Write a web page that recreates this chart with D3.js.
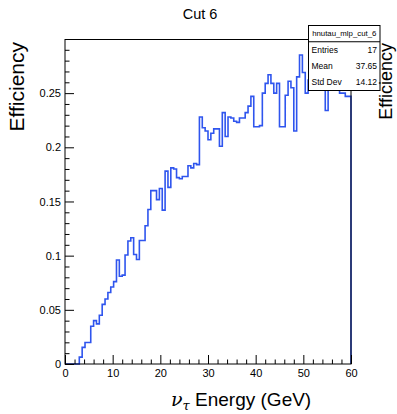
<!DOCTYPE html>
<html>
<head>
<meta charset="utf-8">
<script src="https://cdn.jsdelivr.net/npm/d3@7"></script>
<style>
  body { margin: 0; background: #fff; }
  svg { display: block; font-family: "Liberation Sans", Arial, Helvetica, sans-serif; }
</style>
</head>
<body>
<svg id="chart" width="397" height="414"></svg>
<script>
// Histogram: 100 bins of neutrino energy between 0 and 60 GeV
const energyRange = [0, 60];
const efficiencyRange = [0, 0.2995];
const efficiency = [
  0, 0, 0, 0, 0, 0.0063, 0.0153, 0.0198, 0.0198, 0.0348,
  0.040, 0.037, 0.045, 0.055, 0.060, 0.066, 0.071, 0.076, 0.096, 0.081,
  0.082, 0.1006, 0.1135, 0.1165, 0.101, 0.0964, 0.114, 0.114, 0.1276, 0.1426,
  0.160, 0.160, 0.1517, 0.162, 0.142, 0.178, 0.163, 0.181, 0.180, 0.172,
  0.171, 0.173, 0.173, 0.183, 0.181, 0.185, 0.184, 0.228, 0.218, 0.215,
  0.207, 0.213, 0.217, 0.217, 0.201, 0.232, 0.210, 0.228, 0.227, 0.224,
  0.223, 0.227, 0.227, 0.232, 0.238, 0.247, 0.219, 0.219, 0.220, 0.250,
  0.259, 0.267, 0.259, 0.250, 0.259, 0.219, 0.219, 0.248, 0.261, 0.255,
  0.215, 0.265, 0.2852, 0.269, 0.250, 0.262, 0.270, 0.258, 0.266, 0.256,
  0.262, 0.234, 0.260, 0.266, 0.257, 0.255, 0.250, 0.250, 0.247, 0.247
];
const xMajorTicks = [0, 10, 20, 30, 40, 50, 60];
const yMajorTicks = [0, 0.05, 0.1, 0.15, 0.2, 0.25];
const yTickLabels = ["0", "0.05", "0.1", "0.15", "0.2", "0.25"];
const chartTitle = "Cut 6";
const yTitle = "Efficiency";
const histName = "hnutau_mlp_cut_6";
const statLabels = ["Entries", "Mean", "Std Dev"];
const statValues = ["17", "37.65", "14.12"];

const svg = d3.select("#chart");
const frame = { left: 65, right: 351, top: 39.5, bottom: 364 };

const x = d3.scaleLinear().domain(energyRange).range([frame.left, frame.right]);
const y = d3.scaleLinear().domain(efficiencyRange).range([frame.bottom, frame.top]);

// frame background
svg.append("rect")
  .attr("x", frame.left).attr("y", frame.top)
  .attr("width", frame.right - frame.left).attr("height", frame.bottom - frame.top)
  .attr("fill", "#fff");

// histogram outline (step line)
const nBins = efficiency.length;
const binWidth = (energyRange[1] - energyRange[0]) / nBins;
const pts = [[energyRange[0], 0]];
efficiency.forEach((v, i) => pts.push([energyRange[0] + i * binWidth, v]));
pts.push([energyRange[1], efficiency[nBins - 1]]);
pts.push([energyRange[1], 0]);

const line = d3.line()
  .x(d => x(d[0]))
  .y(d => y(d[1]))
  .curve(d3.curveStepAfter);

svg.append("path")
  .attr("d", line(pts))
  .attr("fill", "none")
  .attr("stroke", "#2f55ee")
  .attr("stroke-width", 1.6)
  .attr("stroke-linejoin", "miter");

// axes with major and minor ticks pointing into the frame
const yMinor = d3.range(0, 0.2995, 0.01).filter(v => !yMajorTicks.some(m => Math.abs(m - v) < 1e-6));
const xMinor = d3.range(0, 60.001, 2).filter(v => v % 10 !== 0);

const yAxisMajor = d3.axisLeft(y).tickValues(yMajorTicks)
  .tickSize(-9).tickPadding(4)
  .tickFormat((d, i) => yTickLabels[i]);
const yAxisMinor = d3.axisLeft(y).tickValues(yMinor).tickSize(-4.5).tickFormat("");

const xAxisMajor = d3.axisBottom(x).tickValues(xMajorTicks)
  .tickSize(-9).tickPadding(5).tickFormat(d3.format("d"));
const xAxisMinor = d3.axisBottom(x).tickValues(xMinor).tickSize(-4.5).tickFormat("");

function styleAxis(g) {
  g.select(".domain").remove();
  g.selectAll("line").attr("stroke", "#000").attr("stroke-width", 1);
  g.selectAll("text").attr("fill", "#000").attr("font-size", 11)
    .attr("font-family", "'Liberation Sans', Arial, sans-serif");
}

svg.append("g").attr("transform", `translate(${frame.left},0)`).call(yAxisMinor).call(styleAxis);
svg.append("g").attr("transform", `translate(${frame.left},0)`).call(yAxisMajor).call(styleAxis);
svg.append("g").attr("transform", `translate(0,${frame.bottom})`).call(xAxisMinor).call(styleAxis);
svg.append("g").attr("transform", `translate(0,${frame.bottom})`).call(xAxisMajor).call(styleAxis);

// frame border
svg.append("rect")
  .attr("x", frame.left).attr("y", frame.top)
  .attr("width", frame.right - frame.left).attr("height", frame.bottom - frame.top)
  .attr("fill", "none").attr("stroke", "#000").attr("stroke-width", 1);

// title
svg.append("text")
  .attr("x", 200).attr("y", 19)
  .attr("text-anchor", "middle")
  .attr("font-size", 14.5)
  .text(chartTitle);

// left y axis title
svg.append("text")
  .attr("transform", "translate(24,42) rotate(-90)")
  .attr("text-anchor", "end")
  .attr("font-size", 21)
  .text(yTitle);

// x axis title with Greek symbols
const xt = svg.append("text")
  .attr("x", 171).attr("y", 406)
  .attr("font-size", 19);
xt.append("tspan").attr("font-family", "'DejaVu Serif', serif").attr("font-style", "italic").attr("font-size", 19).text("ν");
xt.append("tspan").attr("font-family", "'DejaVu Serif', serif").attr("font-style", "italic").attr("font-size", 13).attr("dy", 4).text("τ");
xt.append("tspan").attr("dy", -4).text(" Energy (GeV)");

// statistics box
const box = { x: 308.5, y: 25.5, w: 71.5, h: 65 };
const sb = svg.append("g");
sb.append("rect")
  .attr("x", box.x).attr("y", box.y).attr("width", box.w).attr("height", box.h)
  .attr("fill", "#fff").attr("stroke", "#000").attr("stroke-width", 1);
const rowH = box.h / 4;
sb.append("line")
  .attr("x1", box.x).attr("x2", box.x + box.w)
  .attr("y1", box.y + rowH).attr("y2", box.y + rowH)
  .attr("stroke", "#000").attr("stroke-width", 1);
sb.append("text")
  .attr("x", box.x + box.w / 2).attr("y", box.y + rowH / 2 + 2.8)
  .attr("text-anchor", "middle").attr("font-size", 7.8)
  .text(histName);
statLabels.forEach((lab, i) => {
  const cy = box.y + rowH * (i + 1) + rowH / 2 + 3;
  sb.append("text").attr("x", box.x + 3).attr("y", cy).attr("font-size", 8.5).text(lab);
  sb.append("text").attr("x", box.x + box.w - 3).attr("y", cy)
    .attr("text-anchor", "end").attr("font-size", 8.5).text(statValues[i]);
});

// y axis title of the neighbouring pad, visible at the right edge
svg.append("text")
  .attr("transform", "translate(392,43) rotate(-90)")
  .attr("text-anchor", "end")
  .attr("font-size", 18)
  .text(yTitle);
</script>
</body>
</html>
